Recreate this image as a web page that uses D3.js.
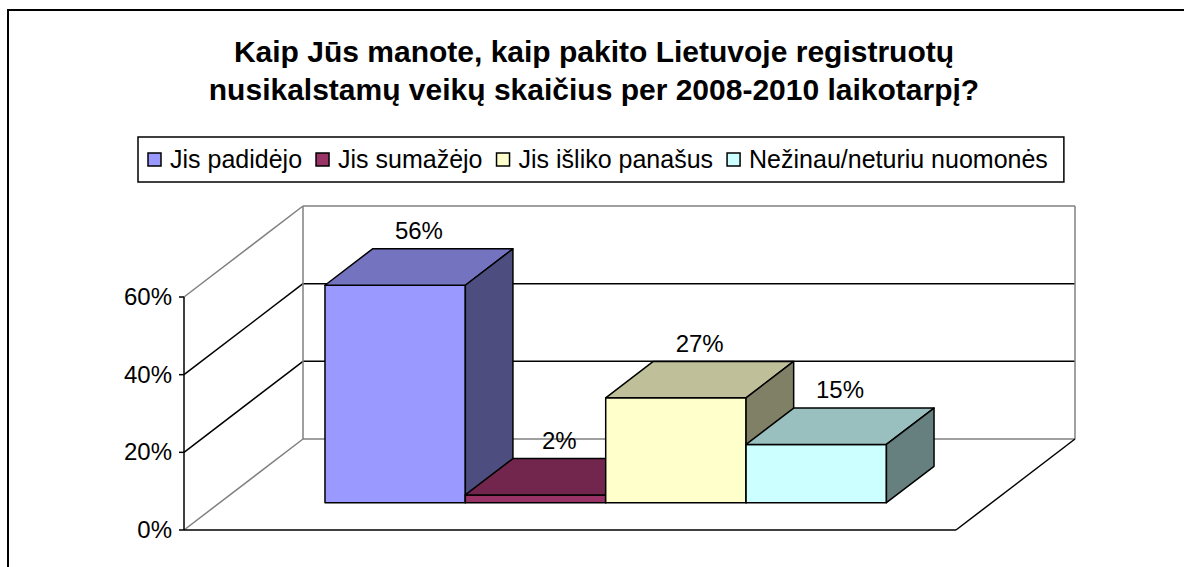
<!DOCTYPE html>
<html>
<head>
<meta charset="utf-8">
<script src="https://cdn.jsdelivr.net/npm/d3@7"></script>
<style>
  body { margin: 0; background: #fff; }
  text { font-family: "Liberation Sans", Arial, sans-serif; fill: #000; }
</style>
</head>
<body>
<div id="chart"></div>
<script>
// Data
var titleLines = ["Kaip Jūs manote, kaip pakito Lietuvoje registruotų",
                  "nusikalstamų veikų skaičius per 2008-2010 laikotarpį?"];
var series = ["Jis padidėjo", "Jis sumažėjo", "Jis išliko panašus", "Nežinau/neturiu nuomonės"];
var values = [0.56, 0.02, 0.27, 0.15];
var valueLabels = ["56%", "2%", "27%", "15%"];
var yTicks = [0, 0.2, 0.4, 0.6];
var yTickLabels = ["0%", "20%", "40%", "60%"];
var colors = ["#9999FF", "#993366", "#FFFFCC", "#CCFFFF"];

// Globals
var width = 1184;
var height = 567;
var svg = d3.select("#chart")
	.append("svg")
	.attr("width", width)
	.attr("height", height);

// outer chart border (right/bottom fall outside the picture)
svg.append("rect")
	.attr("x", 8).attr("y", 10)
	.attr("width", 1300).attr("height", 700)
	.attr("fill", "none").attr("stroke", "#000").attr("stroke-width", 2);

// title
svg.selectAll(".title")
	.data(titleLines)
	.enter().append("text")
		.attr("class", "title")
		.attr("x", 594)
		.attr("y", function(d, i) { return 62 + i * 38; })
		.attr("text-anchor", "middle")
		.style("font-size", "30px")
		.style("font-weight", "bold")
		.text(function(d) { return d; });

// 3D frame
var origin = {x: 184, y: 530};
var plotW = 772;
var depth = {x: 119, y: 91};

var xBand = d3.scaleBand()
	.domain(series)
	.range([0, plotW])
	.paddingInner(0)
	.paddingOuter(0.75);

var yScale = d3.scaleLinear()
	.domain([0, 0.6])
	.range([0, 233]);

function proj(x, z, v) {
	return [origin.x + x + z * depth.x, origin.y - yScale(v) - z * depth.y];
}
function poly(pts) {
	return "M" + pts.map(function(p) { return p.join(","); }).join("L") + "Z";
}
function line(a, b, col, w) {
	svg.append("line")
		.attr("x1", a[0]).attr("y1", a[1])
		.attr("x2", b[0]).attr("y2", b[1])
		.attr("stroke", col).attr("stroke-width", w);
}

var yMax = d3.max(yTicks);

// gridlines on side and back wall
yTicks.forEach(function(t) {
	var col = (t === 0 || t === yMax) ? "#808080" : "#000";
	line(proj(0, 0, t), proj(0, 1, t), col, 1.5);
	line(proj(0, 1, t), proj(plotW, 1, t), col, 1.5);
});
// back wall vertical edges
line(proj(0, 1, 0), proj(0, 1, yMax), "#808080", 1.5);
line(proj(plotW, 1, 0), proj(plotW, 1, yMax), "#808080", 1.5);
// floor front and right edge
line(proj(0, 0, 0), proj(plotW, 0, 0), "#000", 1.5);
line(proj(plotW, 0, 0), proj(plotW, 1, 0), "#000", 1.5);

// value axis
line(proj(0, 0, 0), proj(0, 0, yMax), "#000", 1.5);
yTicks.forEach(function(t, i) {
	var p = proj(0, 0, t);
	line([p[0] - 5, p[1]], p, "#000", 1.5);
	svg.append("text")
		.attr("x", p[0] - 12)
		.attr("y", p[1] + 8)
		.attr("text-anchor", "end")
		.style("font-size", "24px")
		.text(yTickLabels[i]);
});

// bars
var z0 = 0.3, z1 = 0.7;
function shade(c, k) {
	var r = d3.rgb(c);
	return d3.rgb(r.r * k, r.g * k, r.b * k).formatHex();
}

series.forEach(function(s, i) {
	var x1 = xBand(s), x2 = x1 + xBand.bandwidth(), v = values[i];
	var g = svg.append("g").attr("class", "bar");
	var faces = [
		{pts: [proj(x1, z0, 0), proj(x2, z0, 0), proj(x2, z0, v), proj(x1, z0, v)], k: 1},
		{pts: [proj(x1, z0, v), proj(x2, z0, v), proj(x2, z1, v), proj(x1, z1, v)], k: 0.75},
		{pts: [proj(x2, z0, 0), proj(x2, z1, 0), proj(x2, z1, v), proj(x2, z0, v)], k: 0.5}
	];
	faces.forEach(function(f) {
		g.append("path")
			.attr("d", poly(f.pts))
			.attr("fill", shade(colors[i], f.k))
			.attr("stroke", "#000")
			.attr("stroke-width", 1.5)
			.attr("stroke-linejoin", "round");
	});
});

// value labels
series.forEach(function(s, i) {
	var p = proj(xBand(s) + xBand.bandwidth() / 2, (z0 + z1) / 2, values[i]);
	svg.append("text")
		.attr("x", p[0])
		.attr("y", p[1] - 28)
		.attr("text-anchor", "middle")
		.style("font-size", "24px")
		.text(valueLabels[i]);
});

// legend
var legend = svg.append("g");
var lx = 148;
series.forEach(function(s, i) {
	var t = legend.append("text")
		.attr("x", lx + 22)
		.attr("y", 168)
		.style("font-size", "25px")
		.text(s);
	legend.append("rect")
		.attr("x", lx).attr("y", 153)
		.attr("width", 13).attr("height", 13)
		.attr("fill", colors[i])
		.attr("stroke", "#000").attr("stroke-width", 1.5);
	lx += 22 + t.node().getComputedTextLength() + 14;
});
legend.insert("rect", ":first-child")
	.attr("x", 138).attr("y", 137)
	.attr("width", lx - 138 + 2).attr("height", 45)
	.attr("fill", "#fff")
	.attr("stroke", "#000").attr("stroke-width", 1.5);
</script>
</body>
</html>
